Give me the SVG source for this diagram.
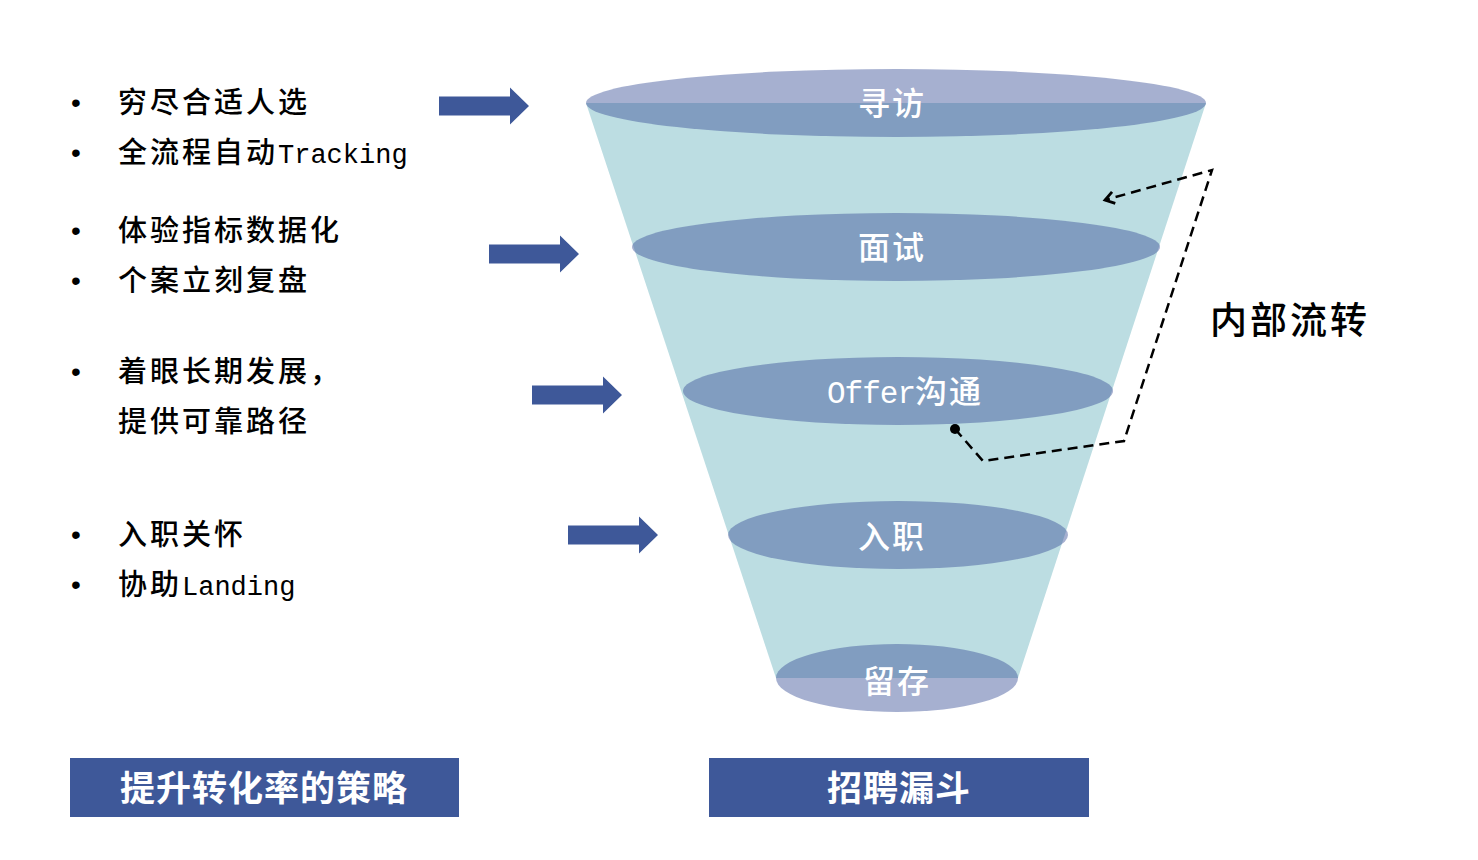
<svg xmlns="http://www.w3.org/2000/svg" width="1478" height="860" viewBox="0 0 1478 860">
<defs>
<style>
.lt{font-family:"Noto Sans CJK SC","Liberation Sans",sans-serif;font-size:29px;font-weight:500;fill:#000;letter-spacing:3px}
.mono{font-family:"Liberation Mono","Noto Sans CJK SC",monospace;font-size:27px;font-weight:normal;letter-spacing:0px}
.bul{font-family:"Liberation Sans",sans-serif;font-size:28px;fill:#000}
.lab{font-family:"Noto Sans CJK SC","Liberation Sans",sans-serif;font-size:32px;font-weight:500;fill:#fff;text-anchor:middle;letter-spacing:2px}
.labm{font-family:"Liberation Mono","Noto Sans CJK SC",monospace;font-size:31px;letter-spacing:-1px}
.el{fill:#3a5097;fill-opacity:0.45}
.box{fill:#3e5899}
.bt{font-family:"Noto Sans CJK SC","Liberation Sans",sans-serif;font-size:35px;font-weight:bold;fill:#fff;text-anchor:middle;letter-spacing:1px}
.arr{fill:#3e5899}
.dash{fill:none;stroke:#000;stroke-width:2.5;stroke-dasharray:10 6}
</style>
<path id="blk" d="M0,-9.5 H71 V-18.5 L90,0 L71,18.5 V9.5 H0 Z"/>
<marker id="chev" viewBox="0 0 16 16" refX="13" refY="8" markerWidth="16" markerHeight="16" markerUnits="userSpaceOnUse" orient="auto">
<path d="M4,2 L13,8 L4,14" fill="none" stroke="#000" stroke-width="2.8"/>
</marker>
</defs>
<rect width="1478" height="860" fill="#fff"/>

<g id="funnel">
<polygon points="586,103 1206,103 1018,678 776,678" fill="#bcdde2"/>
</g>
<g id="stage-xunfang">
<ellipse class="el" cx="896" cy="103" rx="310" ry="34"/>
<text class="lab" x="892" y="115">寻访</text>
</g>
<g id="stage-mianshi">
<ellipse class="el" cx="896" cy="247" rx="264" ry="34"/>
<text class="lab" x="892" y="259">面试</text>
</g>
<g id="stage-offer">
<ellipse class="el" cx="898" cy="391" rx="215" ry="34"/>
<text class="lab" x="905" y="403"><tspan class="labm">Offer</tspan>沟通</text>
</g>
<g id="stage-ruzhi">
<ellipse class="el" cx="898" cy="535" rx="170" ry="34"/>
<text class="lab" x="892" y="548">入职</text>
</g>
<g id="stage-liucun">
<ellipse class="el" cx="897" cy="678" rx="121" ry="34"/>
<text class="lab" x="897" y="693">留存</text>
</g>

<g id="strategy-1">
<text class="bul" x="71" y="112">•</text>
<text class="lt" x="118" y="113">穷尽合适人选</text>
<text class="bul" x="71" y="162">•</text>
<text class="lt" x="118" y="163">全流程自动<tspan class="mono">Tracking</tspan></text>
</g>
<g id="strategy-2">
<text class="bul" x="71" y="240">•</text>
<text class="lt" x="118" y="241">体验指标数据化</text>
<text class="bul" x="71" y="290">•</text>
<text class="lt" x="118" y="291">个案立刻复盘</text>
</g>
<g id="strategy-3">
<text class="bul" x="71" y="381">•</text>
<text class="lt" x="118" y="382">着眼长期发展，</text>
<text class="lt" x="118" y="432">提供可靠路径</text>
</g>
<g id="strategy-4">
<text class="bul" x="71" y="544">•</text>
<text class="lt" x="118" y="545">入职关怀</text>
<text class="bul" x="71" y="594">•</text>
<text class="lt" x="118" y="595">协助<tspan class="mono">Landing</tspan></text>
</g>

<g id="internal-label">
<text x="1210" y="334" style="font-family:'Noto Sans CJK SC','Liberation Sans',sans-serif;font-size:37px;font-weight:500;fill:#000;letter-spacing:3px">内部流转</text>
</g>

<g id="connectors">
<use href="#blk" class="arr" transform="translate(439,106)"/>
<use href="#blk" class="arr" transform="translate(489,254)"/>
<use href="#blk" class="arr" transform="translate(532,395)"/>
<use href="#blk" class="arr" transform="translate(568,535)"/>
<circle cx="955" cy="429" r="5" fill="#000"/>
<path class="dash" d="M955,429 L983,461 L1124,441 L1212,170 L1105,200" marker-end="url(#chev)"/>
</g>

<g id="title-strategy">
<rect class="box" x="70" y="758" width="389" height="59"/>
<text class="bt" x="264" y="801">提升转化率的策略</text>
</g>
<g id="title-funnel">
<rect class="box" x="709" y="758" width="380" height="59"/>
<text class="bt" x="899" y="801">招聘漏斗</text>
</g>
</svg>
